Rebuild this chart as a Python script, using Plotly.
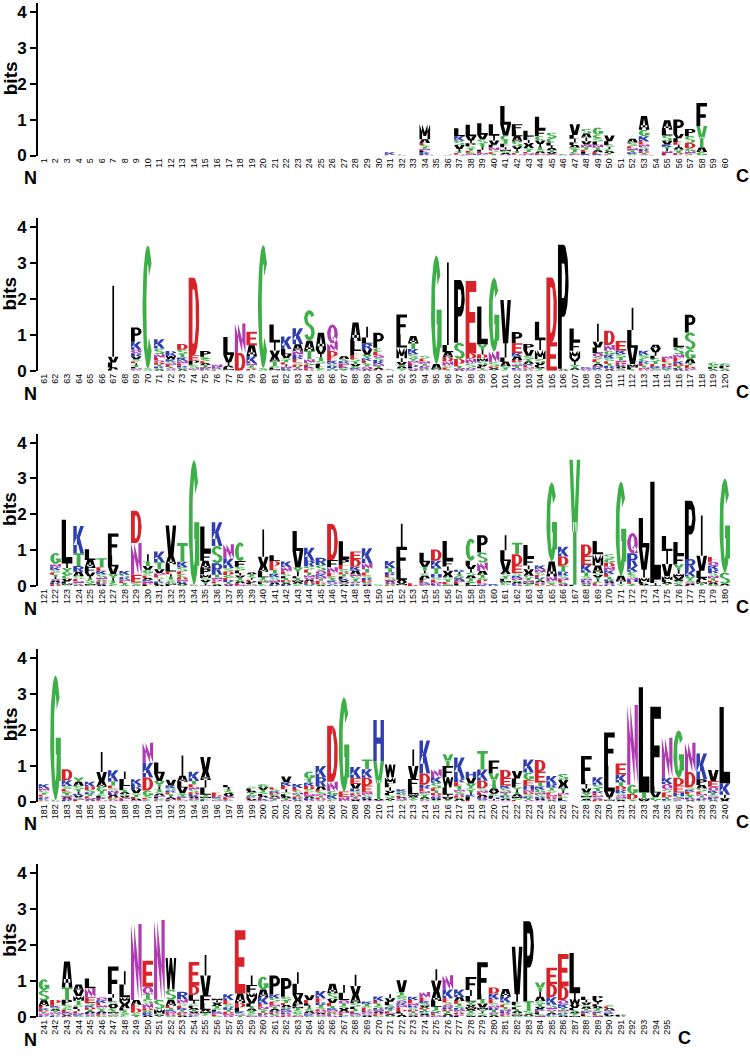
import numpy as np
import plotly.graph_objects as go

# ---------------- data: letter stacks (letter + height in bits) per position ----------------
ROW1 = {
    31: "K.07 E.02", 32: "A.02", 35: "L.02", 36: "V.02",
    34: "M.42 A.10 E.06 K.05 F.05 N.05 T.05 S.05 R.04",
    37: "L.22 K.13 S.12 V.11 I.06 T.05 E.04 N.03",
    38: "L.32 V.12 P.08 I.08 S.07 T.06 E.05 N.04 G.04",
    39: "L.32 V.13 S.12 T.10 I.07 F.05 N.04 E.04 K.03",
    40: "L.32 I.13 V.12 F.08 N.07 S.06 E.05 T.04",
    41: "L.52 V.30 C.13 F.10 T.10 I.06 S.05 A.04 M.05 N.03",
    42: "F.17 L.16 A.15 S.13 V.08 I.06 T.05 E.04 N.03",
    43: "L.16 F.10 I.08 A.07 V.07 S.06 T.05 N.04 E.04 K.02",
    44: "L.36 F.18 C.12 V.10 I.08 T.07 S.06 A.05 N.03 E.03",
    45: "S.16 C.12 L.08 I.07 A.06 V.05 T.05 N.03 E.02",
    46: "A.02 G.02",
    47: "V.30 I.10 L.10 F.08 A.07 T.06 S.06 C.05 N.03 E.02",
    48: "S.13 A.11 I.10 V.09 N.08 T.07 E.06 K.05 L.05",
    49: "G.20 C.10 L.09 S.09 N.08 T.07 A.06 E.05 K.04",
    50: "V.16 L.10 C.06 I.06 S.06 A.05 T.04 E.03",
    52: "A.11 S.10 N.06 E.06 K.05 T.05 G.04",
    53: "A.38 G.18 K.15 E.08 N.07 R.06 S.06 D.05 T.04 Q.03",
    54: "L.02",
    55: "A.26 L.16 S.15 V.10 K.07 I.06 T.06 N.05 E.04 F.03",
    56: "P.40 V.12 L.10 E.08 I.07 A.06 T.05 S.05 D.04 K.03",
    57: "P.20 S.19 D.15 G.08 N.07 E.02 T.03",
    58: "F.64 Y.60 A.12 G.10",
}
ROW2 = {
    67: "I1.98 V.16 L.14 A.05 F.04",
    69: "P.40 K.22 Q.10 R.09 V.08 S.06 T.05 I.05 E.05 N.04 L.04 G.03",
    70: "C3.42 S.04 G.03",
    71: "K.26 S.16 N.10 E.07 D.06 Q.06 R.05 T.05 G.04 A.03",
    72: "R.13 W.10 K.06 E.05 N.05 S.05 Q.04 T.04 G.03",
    73: "D.16 S.12 T.10 K.09 N.08 E.06 G.05 R.05 A.04",
    74: "D2.15 E.15 P.12 S.10 N.04 T.03",
    75: "P.16 E.06 S.06 G.06 T.05 A.05 K.04 N.04 D.03",
    76: "N.08 K.04 E.03 S.03",
    77: "L.50 V.20 I.10 A.05 F.04 M.03 T.02",
    78: "N.82 D.50",
    79: "E.38 A.30 K.20 N.06 S.05 T.05 D.03 R.02",
    80: "C3.42 S.05 G.03",
    81: "L.50 I.22 V.16 A.15 T.12 S.05 F.04 M.03 N.02",
    82: "K.35 L.15 V.10 I.06 E.06 T.06 S.06 N.05 R.04 A.03",
    83: "K.45 A.18 N.12 R.11 E.09 S.07 D.06 T.05 Q.04 G.02",
    84: "S.85 A.28 T.24 N.10 G.06 E.05 D.04 K.04 Q.03",
    85: "A.46 V.13 I.10 T.09 S.08 L.07 F.05 C.04 G.04",
    86: "Q.52 N.22 D.15 E.12 K.08 R.06 S.06 H.04 T.04",
    87: "A.08 R.06 S.06 E.05 N.05 G.04 K.04 T.03",
    88: "A.52 L.28 F.12 E.09 S.08 T.07 V.06 G.05 N.04 K.04",
    89: "I.30 L.17 R.16 V.15 Y.10 K.07 E.06 T.05 S.05 A.04 N.04 Q.04",
    90: "P.42 E.10 C.10 Q.08 K.06 R.06 S.06 T.05 N.05 D.04 A.04",
    91: "S.02 A.02 T.02",
    92: "F.56 L.36 M.30 I.10 V.08 A.05 Y.05 S.04 T.03",
    93: "A.20 T.16 K.15 S.10 Y.08 E.06 N.06 R.05 Q.04 L.04 V.03",
    94: "E.08 S.08 N.06 Q.05 T.05 K.04 D.03 G.03",
    95: "G3.02 A.15 S.04",
    96: "I2.30 L.20 A.14 D.12 N.11 S.06 E.05 T.04",
    97: "P1.75 S.45 D.14 E.06 T.05 A.04 N.04",
    98: "E2.02 D.14 N.13 S.12 Q.05 K.04",
    99: "L1.05 Y.16 I.12 M.10 D.10 S.08 V.06 F.05 T.04 N.03",
    100: "G2.05 N.30 S.12 D.05 A.04 T.03",
    101: "V1.20 I.40 A.12 L.12 T.05 S.05 C.03",
    102: "P.31 E.27 A.10 K.10 S.06 D.06 T.05 N.05 Q.04 R.04",
    103: "P.17 V.16 S.10 A.06 T.06 E.05 K.05 N.04 D.03 G.03",
    104: "L.52 I.27 M.25 S.10 V.07 F.05 T.04 A.04 C.03",
    105: "D1.80 E.80",
    106: "P3.45 A.03 S.03",
    107: "L.36 F.26 M.20 I.10 V.10 Y.05 A.04 T.04 S.03",
    108: "K.04 Q.03 N.03",
    109: "I.50 L.16 V.16 Q.10 E.07 S.07 T.06 K.05 N.05 A.05 G.04",
    110: "D.40 N.16 G.11 K.10 S.08 E.07 R.06 T.06 A.04 Q.04",
    111: "E.26 S.10 K.10 T.08 D.06 N.06 R.05 Q.04 G.04 A.04",
    112: "I.62 L.50 V.45 M.10 F.05 T.04",
    113: "K.11 S.10 C.08 R.07 E.06 N.05 T.05 D.04",
    114: "A.11 I.10 V.10 S.08 L.08 T.07 E.06 K.05 N.04 G.04",
    115: "E.08 N.08 S.06 D.05 K.04 Q.04 T.03 G.03",
    116: "L.26 S.20 E.10 N.10 K.07 D.06 T.05 A.04 R.04",
    117: "P.49 S.48 G.27 A.11 E.05 T.05 N.04 D.04 K.03",
    119: "G.08 S.05 P.04 A.03 T.03",
    120: "P.07 G.07 S.04 A.03",
}
ROW3 = {
    122: "G.31 N.09 K.08 S.07 I.06 T.06 E.06 D.05 R.05 A.05 Q.05",
    123: "L1.22 I.12 C.10 G.10 Y.10 V.08 F.05 S.04 M.04",
    124: "K.76 T.36 R.16 A.12 S.08 N.06 E.06 Q.04 G.04",
    125: "L.30 A.20 F.15 V.10 I.06 Y.05 S.05 T.05 M.04 C.03",
    126: "T.25 K.10 E.10 S.08 N.06 R.05 D.05 G.05 A.04",
    127: "F.62 L.30 V.22 Y.10 I.08 T.06 S.05 C.04",
    128: "K.10 S.07 R.06 T.05 E.05 N.05 G.04",
    129: "D.90 N.88 E.22 S.06 G.04",
    130: "I.20 T.13 G.10 V.10 S.07 E.06 N.05 K.05 A.05 L.04 D.04",
    131: "K.30 T.20 V.10 I.06 S.06 E.06 N.06 R.05 A.04 L.04",
    132: "V.86 A.22 L.20 E.08 T.07 I.07 S.06 G.05 F.04 M.04",
    133: "T.52 K.15 S.12 C.08 E.08 N.06 D.06 R.05 G.04 A.04",
    134: "G3.46 S.03 A.02",
    135: "L.72 F.23 A.22 P.16 M.10 S.06 T.05 V.05 I.04 N.03",
    136: "K.66 S.48 R.32 T.08 N.06 E.05 Q.05 A.04 G.04",
    137: "N.40 K.26 D.10 S.10 G.08 E.06 T.05 R.05 Q.04 A.03",
    138: "C.52 F.16 S.10 L.08 T.06 V.06 I.06 A.05 G.05 N.04 E.04",
    139: "I.05 S.05 T.05 A.05 L.04 V.04 E.04 N.03 G.03",
    140: "I.76 V.26 A.16 L.15 T.06 S.05 F.04 M.04 G.03 C.03",
    141: "L.16 D.13 E.12 K.10 T.10 S.08 N.07 R.05 A.05",
    142: "K.16 N.13 L.06 S.06 E.06 D.05 T.05 R.04 A.04 G.04",
    143: "L.56 V.46 I.12 Y.12 F.06 A.05 M.05 T.05 S.04 C.03",
    144: "K.36 R.16 S.09 E.08 N.07 T.07 Q.06 D.05 A.05 G.04 H.04",
    145: "R.20 S.16 Q.10 K.07 N.06 E.05 T.05 D.04 A.03 G.03",
    146: "D1.00 F.20 N.16 E.10 S.06 K.05 T.05 Y.04 Q.04 H.03",
    147: "L.50 P.16 E.12 S.08 F.06 T.06 D.06 K.05 A.04 Y.04 N.04 V.04",
    148: "E.22 D.21 K.11 A.10 S.07 N.07 T.06 Q.05 R.04 G.04",
    149: "K.42 N.16 T.10 E.08 S.07 R.06 D.05 A.04 Q.04 G.04",
    150: "S.03 G.02",
    151: "K.20 T.11 R.08 S.06 E.06 N.05 Q.04 A.04 D.03 G.03",
    152: "I.64 F.62 L.30 A.06 V.05 M.04 S.03",
    153: "E.05 D.03",
    154: "L.26 V.13 T.10 I.08 A.07 S.07 F.06 E.05 N.04 K.04 G.03",
    155: "D.31 K.21 T.16 H.10 E.06 S.06 N.05 R.04 Q.03",
    156: "L.55 F.16 I.12 V.10 A.08 S.07 T.06 E.05 G.04 M.03",
    157: "I.06 R.06 K.05 S.05 T.05 L.04 E.04 N.04 A.04 G.03",
    158: "C.62 L.12 V.11 I.10 A.08 S.08 T.07 G.06 F.05 M.04",
    159: "P.48 S.28 N.24 A.10 T.08 G.06 E.05 D.05 K.04 Q.04",
    160: "K.04 R.02",
    161: "I.42 L.30 V.28 A.08 S.07 F.06 T.06 M.05 C.04 Y.03 G.03",
    162: "T.32 D.31 E.21 S.08 N.06 K.06 G.05 Q.04 R.04 A.04",
    163: "L.36 F.21 I.11 V.10 A.08 S.07 T.06 N.05 Y.04 M.04 G.03",
    164: "K.11 N.09 S.07 E.06 T.05 R.05 D.04 Q.04 A.04 G.03",
    165: "G2.20 A.42 N.14 S.06 T.04 D.03",
    166: "K.27 D.26 T.16 R.11 S.07 E.06 N.06 Q.04 G.04 A.03",
    167: "Y3.48 F.04",
    168: "D.31 E.26 K.21 T.10 S.07 N.06 R.05 Q.04 A.03 G.03",
    169: "L.37 M.31 A.21 I.06 T.06 V.06 S.06 G.05 Q.04 E.04",
    170: "S.13 D.11 G.11 K.10 N.10 E.08 T.07 R.06 Q.05 A.05 H.03",
    171: "G2.62 A.16 I.06 S.04 T.03",
    172: "Q.56 R.36 K.16 C.10 S.07 N.06 E.05 H.05 T.04 G.03",
    173: "L.82 V.62 I.22 M.12 F.05 A.04 T.03",
    174: "L2.72 F.10 I.06 M.03",
    175: "L.42 I.36 V.34 M.10 F.06 A.05 T.04 S.03",
    176: "L.36 F.26 Y.16 I.10 M.09 V.08 C.04 S.04 W.04 A.03 T.03",
    177: "P1.62 R.32 K.16 Y.12 S.05 A.04 Q.04 E.03",
    178: "I1.12 V.42 L.20 A.06 M.05 F.05 T.04 S.03",
    179: "E.13 Q.11 R.10 K.10 S.08 N.07 D.06 T.06 G.05 A.05",
    180: "G2.62 S.32 A.04 N.02",
}
ROW4 = {
    181: "K.10 N.08 S.06 E.05 T.05 R.04 Q.04 D.03 G.03",
    182: "G3.46 S.03 A.02",
    183: "D.31 K.16 S.08 E.07 G.06 N.05 T.05 R.04 Q.04 A.04",
    184: "Y.12 A.11 S.10 I.06 T.06 V.05 K.05 E.04 N.04 G.04",
    185: "K.13 D.10 R.06 S.06 E.05 T.05 N.04 Q.03 A.03",
    186: "I.56 V.26 A.15 G.13 S.06 T.06 L.05 E.04 K.04 N.03",
    187: "K.31 T.11 E.08 S.07 R.06 N.06 D.05 A.05 Q.04 G.04",
    188: "I.21 L.20 F.11 T.06 V.05 S.05 A.05 E.04 N.04 K.03",
    189: "K.16 R.12 V.10 S.06 E.05 T.05 N.04 A.04",
    190: "N.56 K.41 D.36 G.16 S.05 E.04 R.03 T.03",
    191: "L.31 V.21 Y.16 I.07 S.06 T.06 A.05 F.04 N.04 E.03 K.03 G.03",
    192: "V.16 K.08 R.06 S.06 T.05 E.05 N.04 A.04 I.04 L.03",
    193: "I.56 A.17 L.16 V.15 T.05 S.05 E.04 K.04 N.03 G.03",
    194: "K.26 T.09 E.08 S.07 N.07 R.06 D.06 Q.05 A.05 G.04",
    195: "V.42 A.22 I.21 L.20 T.05 S.04 M.04 K.03 F.03",
    196: "E.07 D.05 S.04 K.04 N.03 T.02",
    197: "I.06 L.06 V.05 A.05 S.05 T.05 E.04 N.04 K.03 G.03",
    199: "L.06 S.06 G.05 T.05 A.05 V.04 E.04 K.04 N.03",
    200: "G.09 V.07 S.06 T.06 A.05 L.05 K.04 E.04 N.03",
    201: "E.06 D.05 K.05 S.05 T.04 N.04 A.04 G.04 R.03",
    202: "V.16 K.11 E.09 I.08 L.06 S.06 T.05 A.05 N.04",
    203: "K.11 E.08 S.06 T.05 N.05 R.04 D.04 A.03 G.03",
    204: "G.21 T.11 D.09 K.09 E.07 S.07 N.06 R.05 A.05 Q.04",
    205: "K.31 R.26 A.09 S.06 E.06 T.05 N.05 Q.04 D.04 G.03",
    206: "D1.56 N.26 G.11 K.10 S.05 E.03",
    207: "G2.62 E.16 N.12",
    208: "K.31 E.16 V.13 R.07 S.06 T.05 N.05 D.05 A.04 Q.04",
    209: "T.27 K.24 D.21 E.20 S.06 N.06 R.05 Q.04 A.04",
    210: "H1.15 Y1.05 V.04 N.03",
    211: "W.36 M.16 F.11 I.10 L.06 V.06 Y.05 S.05 T.04 A.04",
    212: "K.06 E.04 S.04 T.03 N.03 R.04 Q.03 A.03 G.04",
    213: "I.46 V.36 F.22 L.20 A.05 M.05 Y.04 T.04 S.03",
    214: "K.92 D.31 R.11 E.07 S.06 N.06 T.05 Q.04 G.04 A.04",
    215: "N.21 K.16 S.15 E.07 D.06 T.06 R.05 Q.05 G.04 A.04",
    216: "Y.33 F.31 W.29 L.20 I.05 V.04 M.04 S.03 T.03",
    217: "K.58 E.11 R.11 T.10 S.06 N.06 D.05 Q.05 A.04 G.04 H.03",
    218: "H.17 V.16 Y.13 I.06 T.06 S.06 F.05 L.05 K.05 E.04",
    219: "T.52 K.31 D.21 S.07 E.06 N.06 R.05 A.05 G.04 Q.04",
    220: "F.36 Y.31 T.11 A.08 S.06 V.06 L.05 I.04 H.04 N.03",
    221: "D.22 E.21 K.09 S.07 T.06 N.06 R.05 Q.04 A.04 G.04",
    222: "V.21 L.13 F.11 I.07 Y.07 A.06 T.06 S.05 M.05 E.04",
    223: "K.36 G.21 E.16 H.11 N.07 S.06 D.06 T.05 R.05 Q.04",
    224: "D.32 E.31 T.11 K.09 G.08 S.06 N.06 R.05 Q.04 A.04",
    225: "K.21 R.11 S.07 T.07 E.06 N.05 Q.04 D.04 A.03 G.03",
    226: "S.16 V.13 A.11 T.07 I.06 L.05 G.05 E.05 N.05 K.04",
    228: "F.66 L.13 I.12 V.11 Y.08 S.05 A.04 T.03 M.05",
    229: "K.21 S.11 T.07 E.06 R.06 N.05 D.04 Q.04 G.04",
    230: "F.92 L.72 V.16 I.06 M.04 Y.02",
    231: "E.31 K.21 T.11 D.10 R.09 S.06 N.05 Q.05 A.04 G.04",
    232: "N2.22 G.26 D.14 S.04 T.03",
    233: "L2.92 T.16 M.06 V.04",
    234: "F2.22 L.17 V.12 G.10 I.03",
    235: "N1.12 K.17 Q.16 S.08 E.07 D.06 T.05 R.04 G.03",
    236: "G1.32 D.21 E.20 H.10 S.05 N.04 K.03 T.03",
    237: "N.82 D.42 S.07 E.06 K.06 T.05 G.05 Q.04 R.04 A.03",
    238: "K.72 P.16 A.10 S.08 E.07 T.05 N.05 R.04 Q.04 G.03",
    239: "V.31 E.16 Q.11 K.06 S.05 T.05 R.04 N.04 A.03 G.03",
    240: "L2.12 K.32 I.10 V.06 A.03",
}
ROW5 = {
    241: "G.31 S.28 A.16 E.06 D.05 K.05 N.04 T.04 R.03 Q.03",
    242: "D.09 E.07 S.05 K.05 N.04 T.04 A.04 R.03 G.03 Q.03",
    243: "A.72 T.34 P.14 S.09 G.06 E.05 N.04 K.04 D.03 V.03",
    244: "A.17 V.15 M.13 T.11 I.06 L.06 S.06 E.05 K.04 N.04 G.03",
    245: "L.27 N.25 E.16 S.07 D.06 K.06 T.05 Q.04 R.04 A.04 G.03",
    246: "Q.09 E.07 K.07 S.06 N.06 T.05 D.04 R.04 A.04 G.03",
    247: "F.76 I.11 L.10 S.07 V.06 A.06 T.05 C.05 Y.04 M.04 G.03 N.03",
    248: "I.37 L.35 M.13 A.09 V.09 F.06 S.05 T.05 C.04 Y.04",
    249: "N2.12 A.13 D.11 E.11 S.05 G.04 T.03",
    250: "E.72 Q.21 N.13 S.13 T.13 D.06 K.05 G.05 A.04 R.04",
    251: "N2.22 S.26 M.13 T.03 A.03 G.03",
    252: "W.88 S.28 A.17 E.06 N.05 K.05 T.05 D.04 G.03 Q.03",
    253: "R.21 N.11 S.07 K.06 E.06 T.05 D.04 Q.04 A.03 G.03",
    254: "E.66 D.26 L.16 I.08 F.06 S.06 V.05 T.05 A.05 N.04 K.03 G.03",
    255: "I.57 V.55 F.21 L.19 M.05 A.05 T.04 S.03 Y.03",
    256: "I.06 M.06 L.05 S.05 T.05 A.05 V.05 E.04 N.04 K.04 G.03",
    257: "K.16 E.11 S.09 R.07 T.06 N.05 D.05 Q.04",
    258: "E1.76 A.26 D.13 L.11 K.05 S.04 T.03 N.03",
    259: "I.26 F.21 M.16 V.15 L.08 A.06 T.06 S.05 Y.05 C.04 N.03",
    260: "G.36 A.21 K.20 E.07 S.06 N.06 T.05 R.04 D.04 Q.03",
    261: "P.52 K.11 S.10 E.08 T.06 N.06 R.05 A.05 Q.04 G.04 D.04",
    262: "P.52 S.11 A.06 E.06 T.06 N.05 K.05 G.05 D.04 Q.04 R.04",
    263: "I.32 L.30 V.16 A.11 F.06 S.05 T.05 M.05 Y.04 C.04 N.03 G.03",
    264: "V.13 E.09 I.06 L.06 A.05 S.05 T.05 K.04 N.04 G.03",
    265: "K.21 E.11 R.07 S.06 T.06 N.05 D.05 Q.04 A.04 G.03",
    266: "A.26 S.16 V.11 E.09 T.06 N.05 K.05 D.04 G.04 Q.03 R.03",
    267: "I.22 L.20 Q.10 V.06 S.06 T.06 A.05 E.04 N.04 K.03 G.03",
    268: "I.31 V.26 A.21 S.11 T.06 L.06 E.05 N.04 K.04 G.03",
    269: "K.07 E.05 S.05 T.05 N.04 R.04 D.04 A.03 Q.03 G.03",
    270: "K.13 E.07 S.06 T.06 N.05 R.05 D.04 Q.04 A.04 G.03",
    271: "I.11 V.10 L.09 K.06 S.06 E.05 T.05 A.04 N.04 G.03",
    272: "V.33 Q.07 S.08 G.08 T.08 E.06 N.06 K.06 A.05 I.05 L.05 D.05",
    273: "E.09 K.09 S.06 R.06 N.06 T.05 D.05 Q.04 A.03 G.03",
    274: "N.16 E.09 V.06 S.06 K.06 T.05 D.05 Q.04 A.04 G.04 R.04",
    275: "I.32 V.31 A.26 L.16 T.09 S.05 E.04 K.04 N.03 G.03",
    276: "N.40 K.24 E.11 Q.07 S.07 R.06 T.05 D.05 A.04 G.04 H.03",
    277: "K.21 A.11 E.07 S.06 T.06 N.05 R.05 Q.04 D.04 G.04 L.03",
    278: "F.36 I.17 L.15 Y.09 M.06 V.06 S.05 T.05 A.05 C.04 W.03",
    279: "F.90 L.13 T.12 V.11 M.06 I.05 Y.05 S.04 A.03 C.03",
    280: "D.17 K.16 E.11 S.07 T.06 R.06 N.06 Q.05 A.04 G.04",
    281: "A.21 K.16 E.07 S.07 T.06 R.05 N.05 D.04 Q.04 G.03",
    282: "V1.32 I.21 F.09 L.06 S.06 A.05 T.05 M.04 Y.04 G.03",
    283: "P2.22 T.26 S.11 A.04 G.03",
    284: "Y.26 I.14 A.12 S.09 T.07 V.06 E.05 K.05 N.04 G.04 L.04",
    285: "E.46 D.36 K.21 S.07 N.06 T.05 Q.05 R.04 A.04 G.03",
    286: "E.90 D.38 Q.12 K.10 S.05 N.05 T.05 R.04 A.03 G.03",
    287: "L1.12 I.17 W.15 V.09 F.06 S.05 T.04 A.04 M.03 Y.03",
    288: "L.09 I.07 S.06 V.06 T.05 A.05 E.04 K.04 N.04 G.03 F.03",
    289: "P.11 L.06 I.06 V.06 S.05 T.05 A.05 E.04 K.04 N.03 G.03",
    290: "E.05 S.05 K.04 T.04 N.04 A.04 V.03 L.03 G.02",
    291: "P.04 A.02",
}
ROWS = [ROW1, ROW2, ROW3, ROW4, ROW5]
ROW_FIRST = [1, 61, 121, 181, 241]
ROW_LAST = [60, 120, 180, 240, 295]
Y_TICKS = [0, 1, 2, 3, 4]

COLOR_GROUPS = {
    "#3DAE48": "GSTYC",
    "#B03AB0": "NQ",
    "#2E3DB0": "KRH",
    "#D9232B": "DE",
    "#000000": "AVLIPWFM",
}

# ---------------- glyph outlines (unit box) ----------------
TX, TY = 0.36, 0.15
DW = 0.32


def R(x0, y0, x1, y1):
    return [(x0, y0), (x1, y0), (x1, y1), (x0, y1)]


def Dg(xt, xb, w, y0=0.0, y1=1.0):
    return [(xt - w / 2, y1), (xt + w / 2, y1), (xb + w / 2, y0), (xb - w / 2, y0)]


def ring(cx, cy, rx, ry, tx, ty, a0, a1, n=26):
    t = np.radians(np.linspace(a0, a1, n))
    ox = cx + rx * np.cos(t)
    oy = cy + ry * np.sin(t)
    tr = t[::-1]
    ix = cx + (rx - tx) * np.cos(tr)
    iy = cy + (ry - ty) * np.sin(tr)
    return list(zip(np.concatenate([ox, ix]), np.concatenate([oy, iy])))


P_BOWL = [R(0, 0, TX, 1), R(0, 1 - TY, 0.55, 1), R(0, 0.42, 0.55, 0.42 + TY),
          ring(0.55, 0.71, 0.45, 0.29, 0.3, TY, -90, 90)]

GLYPHS = {
    "A": [Dg(0.38, 0.16, DW), Dg(0.62, 0.84, DW), R(0.2, 0.18, 0.8, 0.18 + TY)],
    "C": [ring(0.5, 0.5, 0.5, 0.5, TX, TY, 45, 315, 40)],
    "D": [R(0, 0, TX, 1), R(0, 1 - TY, 0.5, 1), R(0, 0, 0.5, TY),
          ring(0.5, 0.5, 0.5, 0.5, 0.32, TY, -90, 90, 30)],
    "E": [R(0, 0, TX, 1), R(0, 1 - TY, 1, 1), R(0, 0.5 - TY / 2, 0.9, 0.5 + TY / 2), R(0, 0, 1, TY)],
    "F": [R(0, 0, TX, 1), R(0, 1 - TY, 1, 1), R(0, 0.44 - TY / 2, 0.88, 0.44 + TY / 2)],
    "G": [ring(0.5, 0.5, 0.5, 0.5, TX, TY, 40, 360, 40), R(0.52, 0.5 - TY * 0.9, 1, 0.5),
          R(1 - 0.3, 0.15, 1, 0.5)],
    "H": [R(0, 0, 0.32, 1), R(0.68, 0, 1, 1), R(0, 0.5 - TY / 2, 1, 0.5 + TY / 2)],
    "I": [R(0.42, 0, 0.58, 1)],
    "K": [R(0, 0, 0.33, 1), Dg(0.83, 0.22, 0.34, 0.3, 1.0), Dg(0.42, 0.83, 0.34, 0.0, 0.62)],
    "L": [R(0, 0, TX + 0.04, 1), R(0, 0, 1, TY)],
    "M": [R(0, 0, 0.24, 1), R(0.76, 0, 1, 1), Dg(0.12, 0.5, 0.24, 0.22, 1.0),
          Dg(0.88, 0.5, 0.24, 0.22, 1.0)],
    "N": [R(0, 0, 0.3, 1), R(0.7, 0, 1, 1), Dg(0.15, 0.85, 0.3)],
    "P": P_BOWL,
    "Q": [ring(0.5, 0.5, 0.5, 0.5, 0.32, TY, 0, 180), ring(0.5, 0.5, 0.5, 0.5, 0.32, TY, 180, 360),
          Dg(0.62, 0.88, 0.3, 0.0, 0.32)],
    "R": P_BOWL + [Dg(0.55, 0.84, 0.32, 0.0, 0.45)],
    "S": [ring(0.5, 0.73, 0.5, 0.27, 0.32, 0.13, 20, 270), ring(0.5, 0.27, 0.5, 0.27, 0.32, 0.13, -160, 90)],
    "T": [R(0, 1 - TY, 1, 1), R(0.5 - TX / 2, 0, 0.5 + TX / 2, 1)],
    "V": [Dg(0.16, 0.42, DW), Dg(0.84, 0.58, DW)],
    "W": [Dg(0.1, 0.27, 0.2), Dg(0.5, 0.27, 0.2), Dg(0.5, 0.73, 0.2), Dg(0.9, 0.73, 0.2)],
    "Y": [Dg(0.15, 0.42, DW, 0.42, 1), Dg(0.85, 0.58, DW, 0.42, 1), R(0.34, 0, 0.66, 0.5)],
}

LETTER_COLOR = {}
for col, letters in COLOR_GROUPS.items():
    for ch in letters:
        LETTER_COLOR[ch] = col


def parse(stack):
    return [(tok[0], float(tok[1:])) for tok in stack.split()]


# ---------------- layout geometry ----------------
W, H = 750, 1057
BASE0, ROW_STEP = 157.0, 217.4
PX_PER_BIT = 36.25
YMAX = 4.25
X_LEFT, X_RIGHT = 38.2, 730.6
LETTER_W = 0.92

fig = go.Figure()
FONT = "Liberation Sans, Arial, Helvetica, sans-serif"
annotations = []

for r, stacks in enumerate(ROWS):
    xa = "x" if r == 0 else f"x{r + 1}"
    ya = "y" if r == 0 else f"y{r + 1}"
    polys = {c: ([], []) for c in COLOR_GROUPS}
    for pos, s in stacks.items():
        items = sorted(parse(s), key=lambda t: t[1])
        y0 = 0.0
        for ch, h in items:
            col = LETTER_COLOR[ch]
            xs, ys = polys[col]
            for poly in GLYPHS[ch]:
                for gx, gy in poly:
                    xs.append(pos - LETTER_W / 2 + gx * LETTER_W)
                    ys.append(y0 + gy * h)
                xs.append(None)
                ys.append(None)
            y0 += h
    for col, (xs, ys) in polys.items():
        if not xs:
            continue
        fig.add_trace(go.Scatter(x=xs, y=ys, mode="lines", fill="toself", fillcolor=col,
                                 line=dict(width=0, color=col), hoverinfo="skip",
                                 showlegend=False, xaxis=xa, yaxis=ya))

    base = BASE0 + ROW_STEP * r
    top = base - YMAX * PX_PER_BIT
    first = ROW_FIRST[r]
    last = ROW_LAST[r]
    ticks = list(range(first, last + 1))
    xkey = "xaxis" if r == 0 else f"xaxis{r + 1}"
    ykey = "yaxis" if r == 0 else f"yaxis{r + 1}"
    fig.update_layout(**{
        xkey: dict(domain=[X_LEFT / W, X_RIGHT / W], range=[first - 0.5, first + 59.5],
                   anchor=ya, showgrid=False, zeroline=False, showline=False,
                   ticks="", tickmode="array", tickvals=ticks, ticktext=[str(t) for t in ticks],
                   tickangle=-90, tickfont=dict(family=FONT, size=9, color="black")),
        ykey: dict(domain=[1 - base / H, 1 - top / H], range=[0, YMAX], anchor=xa,
                   showgrid=False, zeroline=False, showline=True, linecolor="black", linewidth=2,
                   ticks="outside", ticklen=6, tickwidth=2, tickcolor="black",
                   tickmode="array", tickvals=Y_TICKS, ticktext=[str(t) for t in Y_TICKS],
                   tickfont=dict(family=FONT, size=17, color="black", weight="bold")),
    })
    annotations.append(dict(text="bits", textangle=-90, x=10 / W, y=1 - (base - 78) / H,
                            xref="paper", yref="paper", showarrow=False, xanchor="center",
                            yanchor="middle",
                            font=dict(family=FONT, size=19, color="black", weight="bold")))
    annotations.append(dict(text="N", x=30 / W, y=1 - (base + 23) / H, xref="paper", yref="paper",
                            showarrow=False, xanchor="center", yanchor="middle",
                            font=dict(family=FONT, size=18, color="black", weight="bold")))
    c_px = X_LEFT + (last + 1.5 - (first - 0.5)) * (X_RIGHT - X_LEFT) / 60.0
    annotations.append(dict(text="C", x=c_px / W, xref="paper", y=1 - (base + 21) / H, yref="paper",
                            showarrow=False, xanchor="center", yanchor="middle",
                            font=dict(family=FONT, size=18, color="black", weight="bold")))

fig.update_layout(width=W, height=H, margin=dict(l=0, r=0, t=0, b=0),
                  paper_bgcolor="white", plot_bgcolor="white", annotations=annotations,
                  showlegend=False)
fig.write_html("out.html", config={"displayModeBar": False},
               post_script="document.body.style.margin='0';document.body.style.overflow='hidden';")
